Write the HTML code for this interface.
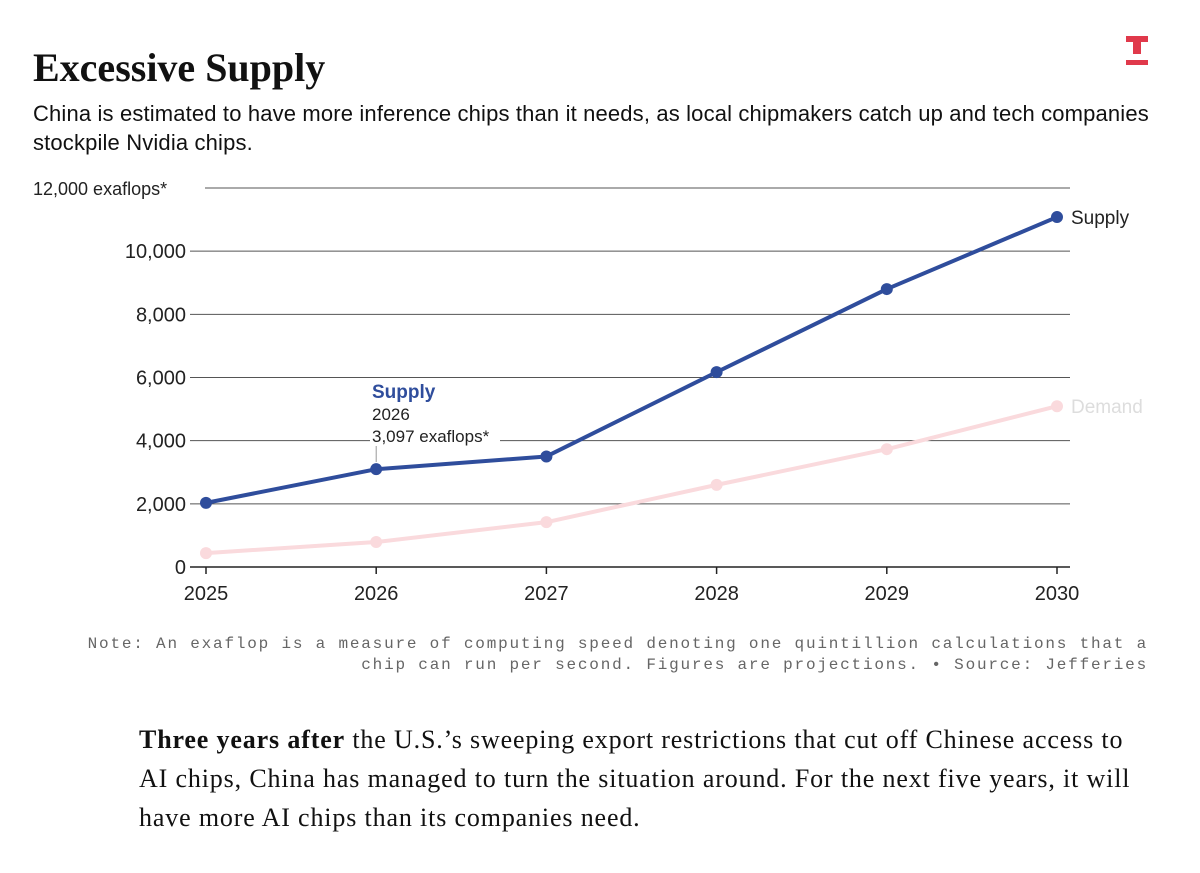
<!DOCTYPE html>
<html><head><meta charset="utf-8"><style>
body{margin:0;width:1200px;height:873px;background:#fff;overflow:hidden;font-family:"Liberation Sans",sans-serif;}
#title{position:absolute;left:33px;top:44px;font-family:"Liberation Serif",serif;font-weight:bold;font-size:40px;color:#111;margin:0;}
#sub{position:absolute;left:33px;top:99px;width:1150px;font-size:22px;line-height:29px;color:#111;letter-spacing:0.15px;}
#note{position:absolute;right:52px;top:634px;font-family:"Liberation Mono",monospace;font-size:16px;line-height:21px;color:#666;text-align:right;width:1150px;letter-spacing:1.8px;}
#body{position:absolute;left:139px;top:720px;width:1060px;white-space:nowrap;font-family:"Liberation Serif",serif;font-size:26px;line-height:39px;color:#111;letter-spacing:0.85px;}
</style></head><body>
<div style="position:absolute;left:1126px;top:36px;width:22px;height:30px;">
<div style="position:absolute;left:0;top:0;width:22px;height:6px;background:#e0394b"></div>
<div style="position:absolute;left:7px;top:6px;width:8px;height:12px;background:#e0394b"></div>
<div style="position:absolute;left:0;top:24px;width:22px;height:5px;background:#e0394b"></div>
</div>
<h1 id="title">Excessive Supply</h1>
<div id="sub">China is estimated to have more inference chips than it needs, as local chipmakers catch up and tech companies stockpile Nvidia chips.</div>
<svg id="chart" width="1200" height="873" style="position:absolute;left:0;top:0" font-family="Liberation Sans, sans-serif"></svg>
<div id="note">Note: An exaflop is a measure of computing speed denoting one quintillion calculations that a<br>chip can run per second. Figures are projections. • Source: Jefferies</div>
<div id="body"><b>Three years after</b> the U.S.’s sweeping export restrictions that cut off Chinese access to<br>AI chips, China has managed to turn the situation around. For the next five years, it will<br>have more AI chips than its companies need.</div>
<script>
const years=[2025,2026,2027,2028,2029,2030];
const supply=[2030,3097,3500,6170,8800,11080];
const demand=[440,790,1420,2600,3730,5090];
const yTicks=[0,2000,4000,6000,8000,10000,12000];
const yTickLabels=["0","2,000","4,000","6,000","8,000","10,000","12,000 exaflops*"];
const NS="http://www.w3.org/2000/svg";
const svg=document.getElementById('chart');
const x=i=>206+i*(1057-206)/(years.length-1);
const y=v=>567-v*(567-188)/12000;
function el(t,a,p){const e=document.createElementNS(NS,t);for(const k in a)e.setAttribute(k,a[k]);(p||svg).appendChild(e);return e;}
yTicks.forEach((t,i)=>{
 const g=el('line',{x1:i==6?205:190,x2:1070,y1:y(t),y2:y(t),stroke:i==0?'#222':'#555','stroke-width':i==0?1.5:1});
 
 
 const tx=el('text',{x:186,y:y(t)+7,'text-anchor':'end','font-size':20,fill:'#222'});
 tx.textContent=yTickLabels[i];
 
 
 if(i==6){tx.setAttribute('x',33);tx.setAttribute('text-anchor','start');tx.setAttribute('font-size',18);}
});
years.forEach((yr,i)=>{
 el('line',{x1:x(i),x2:x(i),y1:567,y2:574,stroke:'#222','stroke-width':1.5});
 const t=el('text',{x:x(i),y:600,'text-anchor':'middle','font-size':20,fill:'#222'});
 t.textContent=yr;
 
 
});
function series(vals,color,name){
 const p=el('polyline',{points:vals.map((v,i)=>x(i)+','+y(v)).join(' '),fill:'none',stroke:color,'stroke-width':4,'stroke-linejoin':'round'});
 
 
 vals.forEach((v,i)=>{const c=el('circle',{cx:x(i),cy:y(v),r:6,fill:color});
 
 });
 const l=el('text',{x:x(5)+14,y:y(vals[5])+7,'font-size':19,fill:name=='supply'?'#222':'#ddd'});
 l.textContent=name=='supply'?'Supply':'Demand';
 
 
}
series(demand,'#fadadd','demand');
series(supply,'#2f4d9c','supply');
el('line',{x1:x(1),x2:x(1),y1:446,y2:462,stroke:'#999','stroke-width':1});
el('rect',{x:370,y:425,width:130,height:18,fill:'#fff'});
const a1=el('text',{x:372,y:398,'font-size':19,'font-weight':'bold',fill:'#2f4d9c'});a1.textContent='Supply';


const a2=el('text',{x:372,y:420,'font-size':17,fill:'#222'});a2.textContent='2026';


const a3=el('text',{x:372,y:442,'font-size':17,fill:'#222'});a3.textContent='3,097 exaflops*';


</script>
</body></html>
